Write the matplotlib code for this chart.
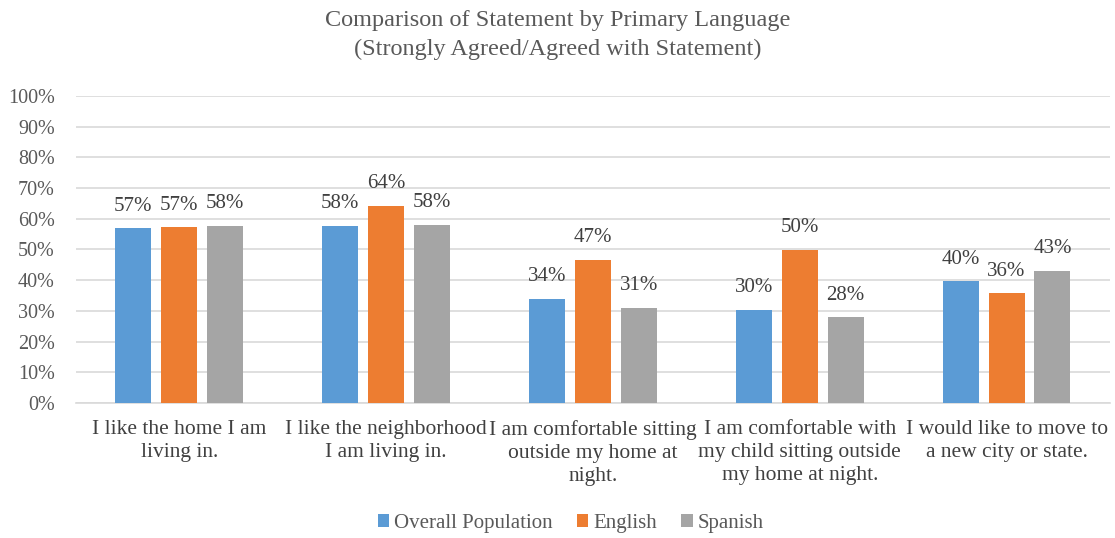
import numpy as np
import matplotlib
matplotlib.use("Agg")
import matplotlib.pyplot as plt
from matplotlib.ticker import PercentFormatter

# Chart data (percent agreeing)
categories = [
    "I like the home I am\nliving in.",
    "I like the neighborhood\nI am living in.",
    "I am comfortable sitting\noutside my home at\nnight.",
    "I am comfortable with\nmy child sitting outside\nmy home at night.",
    "I would like to move to\na new city or state.",
]
series_names = ["Overall Population", "English", "Spanish"]
overall = [56.9, 57.7, 33.9, 30.4, 39.6]
english = [57.2, 64.3, 46.7, 49.9, 35.7]
spanish = [57.8, 58.1, 31.0, 27.9, 43.0]
labels_overall = ["57%", "58%", "34%", "30%", "40%"]
labels_english = ["57%", "64%", "47%", "50%", "36%"]
labels_spanish = ["58%", "58%", "31%", "28%", "43%"]

colors = ["#5B9BD5", "#ED7D31", "#A5A5A5"]
text_color = "#595959"

plt.rcParams['font.family'] = ['Liberation Serif', 'DejaVu Serif']

fig = plt.figure(figsize=(11.15, 5.38), dpi=100)
ax = fig.add_axes([0.068, 0.251, 0.9275, 0.5706])

x = np.arange(len(categories))
step = 0.222
width = 0.174
all_vals = [overall, english, spanish]
all_labels = [labels_overall, labels_english, labels_spanish]
for i, (vals, labs) in enumerate(zip(all_vals, all_labels)):
    bars = ax.bar(x + (i - 1) * step, vals, width, color=colors[i],
                  label=series_names[i], zorder=3)
    for b, lab in zip(bars, labs):
        ax.annotate(lab, (b.get_x() + b.get_width() / 2, b.get_height()),
                    xytext=(0, 9), textcoords="offset points",
                    ha="center", va="bottom", fontsize=15, color="#404040")

ax.set_xlim(-0.5, len(categories) - 0.5)
ax.set_ylim(0, 100)
ax.set_yticks(np.arange(0, 101, 10))
ax.yaxis.set_major_formatter(PercentFormatter(decimals=0))
ax.grid(axis="y", color="#D9D9D9", linewidth=1.2, zorder=0)
for s in ["top", "right", "left"]:
    ax.spines[s].set_visible(False)
ax.spines["bottom"].set_color("#D9D9D9")
ax.spines["bottom"].set_linewidth(1.2)
ax.tick_params(axis="y", length=0, labelsize=14.5, colors=text_color, pad=15)
ax.set_xticks(x)
ax.set_xticklabels(categories, linespacing=1.3)
ax.tick_params(axis="x", length=0, labelsize=15.5, colors="#404040", pad=12)

fig.suptitle("Comparison of Statement by Primary Language\n(Strongly Agreed/Agreed with Statement)",
             y=0.981, fontsize=17.5, color=text_color, linespacing=1.45)

fig.legend(loc="center", bbox_to_anchor=(0.512, 0.027), ncol=3, frameon=False,
           fontsize=15, handlelength=0.55, handleheight=0.6, handletextpad=0.25,
           columnspacing=1.15, labelcolor=text_color)

fig.savefig("out.png", dpi=100)
